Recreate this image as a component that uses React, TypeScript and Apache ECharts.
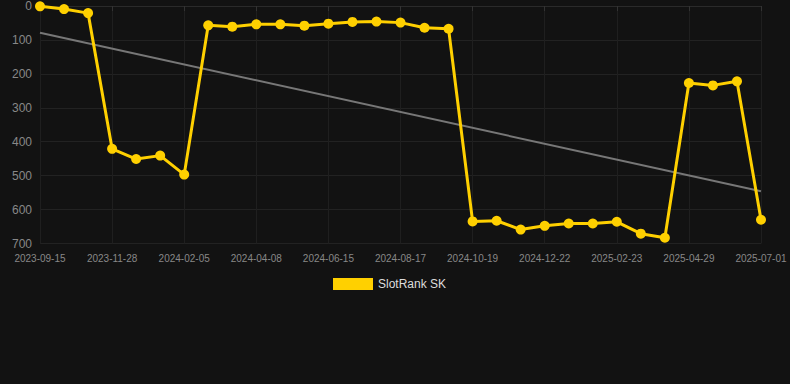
import React, { useEffect, useRef } from "react";
import * as echarts from "echarts";

const dates = [
  "2023-09-15", "2023-10-08", "2023-11-02", "2023-11-28", "2023-12-20", "2024-01-12",
  "2024-02-05", "2024-02-26", "2024-03-18", "2024-04-08", "2024-05-01", "2024-05-24",
  "2024-06-15", "2024-07-06", "2024-07-27", "2024-08-17", "2024-09-07", "2024-09-28",
  "2024-10-19", "2024-11-09", "2024-11-30", "2024-12-22", "2025-01-12", "2025-02-02",
  "2025-02-23", "2025-03-18", "2025-04-07", "2025-04-29", "2025-05-20", "2025-06-10",
  "2025-07-01",
];

const rankValues = [
  1, 9, 21, 421, 451, 441, 497, 57, 61, 54, 54, 58, 52, 47, 46, 49, 64, 67,
  635, 633, 659, 648, 641, 641, 636, 671, 683, 227, 234, 222, 630,
];

const trendStart = 79;
const trendEnd = 546;

export default function App() {
  const ref = useRef<HTMLDivElement>(null);
  useEffect(() => {
    if (!ref.current) return;
    const chart = echarts.init(ref.current, null, { renderer: "svg" });
    const trend = dates.map((_, i) =>
      i === 0 ? trendStart : i === dates.length - 1 ? trendEnd : null
    );
    chart.setOption({
      animation: false,
      backgroundColor: "#121212",
      grid: { left: 40, right: 29, top: 6, bottom: 140.5 },
      legend: {
        data: [{ name: "SlotRank SK", icon: "rect" }],
        top: 273,
        left: 328,
        itemWidth: 40,
        itemHeight: 12,
        itemGap: 10,
        textStyle: { color: "#dddddd", fontSize: 12, fontFamily: "Arial, Liberation Sans, sans-serif" },
      },
      xAxis: {
        type: "category",
        data: dates,
        boundaryGap: false,
        axisLine: { lineStyle: { color: "#2a2a2a" } },
        axisTick: { show: true, interval: 2, lineStyle: { color: "#333" } },
        axisLabel: {
          interval: 2,
          color: "#888888",
          fontSize: 10,
          fontFamily: "Arial, Liberation Sans, sans-serif",
          margin: 10,
        },
        splitLine: { show: true, interval: 2, lineStyle: { color: "#1f1f1f" } },
      },
      yAxis: {
        type: "value",
        inverse: true,
        min: 0,
        max: 700,
        interval: 100,
        axisLine: { show: false },
        axisTick: { show: false },
        axisLabel: {
          color: "#888888",
          fontSize: 12,
          fontFamily: "Arial, Liberation Sans, sans-serif",
          margin: 8,
        },
        splitLine: { lineStyle: { color: "#222222" } },
      },
      series: [
        {
          name: "Trend",
          type: "line",
          data: trend,
          connectNulls: true,
          symbol: "none",
          lineStyle: { color: "#777777", width: 2 },
          z: 1,
          silent: true,
        },
        {
          name: "SlotRank SK",
          type: "line",
          data: rankValues,
          symbol: "circle",
          symbolSize: 10,
          itemStyle: { color: "#FFD000" },
          lineStyle: { color: "#FFD000", width: 3 },
          z: 3,
        },
      ],
    });
    return () => chart.dispose();
  }, []);
  return (
    <div
      ref={ref}
      style={{ position: "fixed", left: 0, top: 0, width: 790, height: 384 }}
    />
  );
}
